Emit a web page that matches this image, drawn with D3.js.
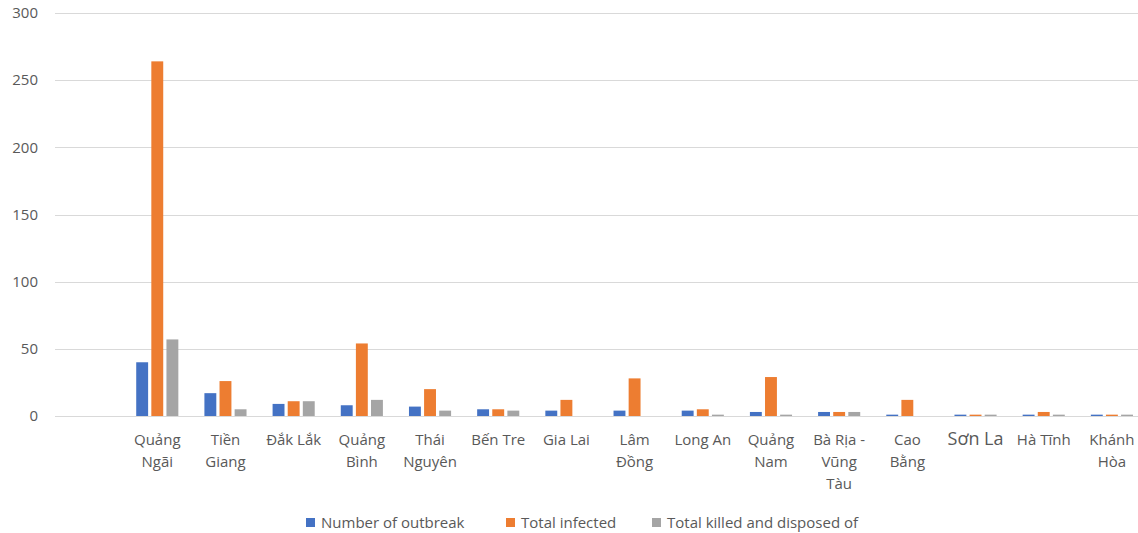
<!DOCTYPE html>
<html>
<head>
<meta charset="utf-8">
<script src="https://cdn.jsdelivr.net/npm/d3@7"></script>
<style>
  body { margin: 0; background: #fff; }
  svg { display: block; font-family: "Open Sans", "Noto Sans", sans-serif; }
  .tick-label, .y-label, .legend-label { fill: #595959; }
</style>
</head>
<body>
<svg id="chart" width="1138" height="533"></svg>
<script>
// Provinces (first row of the source sheet is blank).
var categories = ['', 'Quảng Ngãi', 'Tiền Giang', 'Đắk Lắk', 'Quảng Bình',
  'Thái Nguyên', 'Bến Tre', 'Gia Lai', 'Lâm Đồng', 'Long An', 'Quảng Nam',
  'Bà Rịa - Vũng Tàu', 'Cao Bằng', 'Sơn La', 'Hà Tĩnh', 'Khánh Hòa'];

var seriesNames = ['Number of outbreak', 'Total infected',
  'Total killed and disposed of'];

var outbreaks = [null, 40, 17, 9, 8, 7, 5, 4, 4, 4, 3, 3, 1, 1, 1, 1];
var infected = [null, 264, 26, 11, 54, 20, 5, 12, 28, 5, 29, 3, 12, 1, 3, 1];
var killed = [null, 57, 5, 11, 12, 4, 4, 0, 0, 1, 1, 3, 0, 1, 1, 1];

var yTicks = [0, 50, 100, 150, 200, 250, 300];

var colors = ['#4472C4', '#ED7D31', '#A5A5A5'];

var svg = d3.select('#chart');

/**
 * Plot area in px. The last band runs past the right edge, as in the sheet.
 */
var plot = {left: 55, right: 1146, top: 13, bottom: 416};

var x = d3.scaleBand()
  .domain(categories)
  .range([plot.left, plot.right]);

var y = d3.scaleLinear()
  .domain([0, 300])
  .range([plot.bottom, plot.top]);

// Excel style: gap width 219%, overlap -27%.
var GAP_WIDTH = 2.19;
var OVERLAP = 0.27;
var barWidth = x.bandwidth() / (3 + 2 * OVERLAP + GAP_WIDTH);
var groupWidth = 3 * barWidth + 2 * OVERLAP * barWidth;

var xSeries = d3.scaleBand()
  .domain(seriesNames)
  .range([0, groupWidth])
  .paddingInner(OVERLAP / (1 + OVERLAP));

// gridlines
svg.append('g')
  .selectAll('line')
  .data(yTicks)
  .join('line')
  .attr('x1', plot.left)
  .attr('x2', 1138)
  .attr('y1', function(d) { return Math.round(y(d)) + 0.5; })
  .attr('y2', function(d) { return Math.round(y(d)) + 0.5; })
  .attr('stroke', '#d9d9d9')
  .attr('stroke-width', 1);

// y labels
svg.append('g')
  .selectAll('text')
  .data(yTicks)
  .join('text')
  .classed('y-label', true)
  .attr('x', 38)
  .attr('y', function(d) { return y(d); })
  .attr('dy', '0.35em')
  .attr('text-anchor', 'end')
  .style('font-size', '15px')
  .text(function(d) { return d; });

// bars
var seriesData = [outbreaks, infected, killed];
seriesData.forEach(function(values, s) {
  svg.append('g')
    .attr('fill', colors[s])
    .selectAll('rect')
    .data(values.map(function(v, i) { return {cat: categories[i], v: v}; })
      .filter(function(d) { return d.v != null; }))
    .join('rect')
    .attr('x', function(d) {
      return x(d.cat) + (x.bandwidth() - groupWidth) / 2 +
        xSeries(seriesNames[s]);
    })
    .attr('width', xSeries.bandwidth())
    .attr('y', function(d) { return y(d.v); })
    .attr('height', function(d) { return y(0) - y(d.v); });
});

// category labels, word-wrapped to the band width
var labelGroup = svg.append('g');
categories.forEach(function(name) {
  if (!name) {
    return;
  }
  var big = name == 'Sơn La'; // this cell uses a larger font in the sheet
  var text = labelGroup.append('text')
    .classed('tick-label', true)
    .attr('text-anchor', 'middle')
    .style('font-size', big ? '18px' : '15px');
  var cx = x(name) + x.bandwidth() / 2;
  var words = name.split(' ');
  var lines = [];
  var line = [];
  words.forEach(function(w) {
    line.push(w);
    text.text(line.join(' '));
    if (text.node().getComputedTextLength() > 64 && line.length > 1) {
      line.pop();
      lines.push(line.join(' '));
      line = [w];
    }
  });
  lines.push(line.join(' '));
  text.text(null);
  lines.forEach(function(l, i) {
    text.append('tspan')
      .attr('x', cx)
      .attr('y', 445 + i * 22)
      .text(l);
  });
});

// legend
var legend = svg.append('g');
var lx = 306;
var legendGaps = [200, 146];
seriesNames.forEach(function(name, i) {
  legend.append('rect')
    .attr('x', lx)
    .attr('y', 518)
    .attr('width', 9)
    .attr('height', 9)
    .attr('fill', colors[i]);
  legend.append('text')
    .classed('legend-label', true)
    .attr('x', lx + 15)
    .attr('y', 528)
    .style('font-size', '15px')
    .text(name);
  lx += legendGaps[i] || 0;
});
</script>
</body>
</html>
